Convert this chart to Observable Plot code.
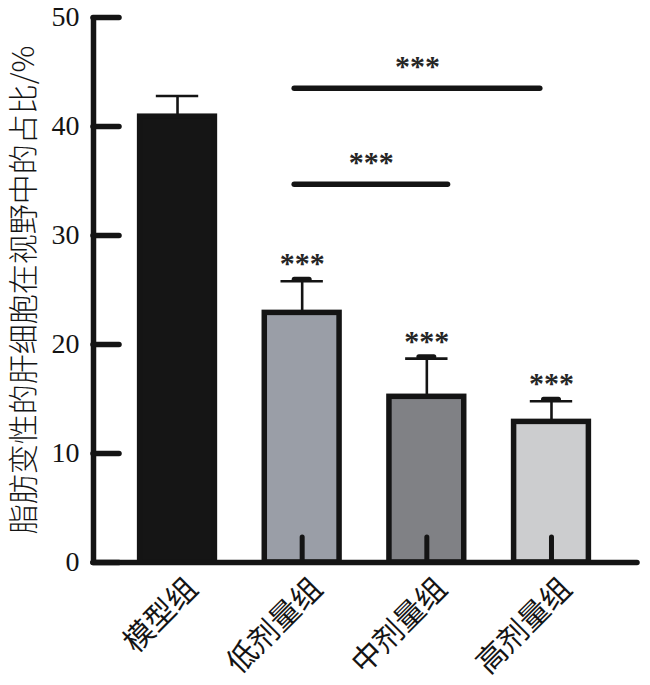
<!DOCTYPE html>
<html><head><meta charset="utf-8">
<script src="https://cdn.jsdelivr.net/npm/d3@7"></script>
<script src="https://cdn.jsdelivr.net/npm/@observablehq/plot@0.6"></script>
<style>body{margin:0;background:#fff}</style>
</head><body><div id="chart"></div>
<script>
// ---- data ----
const groups = ["模型组", "低剂量组", "中剂量组", "高剂量组"];
const means = [40.9, 22.9, 15.2, 12.9];
const errUpper = [42.8, 25.8, 18.7, 14.8];
const fills = ["#151515", "#9a9ea7", "#808185", "#cccdcf"];
const barStars = ["", "***", "***", "***"];
const stubTop = [0, 2.3, 2.3, 2.3];
const yTicks = [0, 10, 20, 30, 40, 50];
const yLabel = "脂肪变性的肝细胞在视野中的占比/%";
const sigFrom = [0.94, 0.94];
const sigTo = [2.17, 2.91];
const sigY = [34.7, 43.5];
const sigText = ["***", "***"];

const bars = groups.map((g, i) => ({i, g, mean: means[i], err: errUpper[i], fill: fills[i], star: barStars[i], stub: stubTop[i]}));
const sigs = sigY.map((y, k) => ({x1: sigFrom[k], x2: sigTo[k], y, text: sigText[k]}));
const serif = "'Liberation Serif', 'Times New Roman', serif";
const cjk = "'Noto Sans CJK SC', sans-serif";
const ink = "#141414";

const chart = Plot.plot({
  width: 650, height: 685,
  marginLeft: 93, marginRight: 13, marginTop: 17, marginBottom: 123,
  x: {domain: [-0.674, 3.69], axis: null},
  y: {domain: [0, 50]},
  style: {background: "white"},
  marks: [
    // error stems & caps
    Plot.ruleX(bars, {x: "i", y1: "mean", y2: "err", stroke: ink, strokeWidth: 2.6}),
    Plot.ruleY(bars, {y: "err", x1: d => d.i - 0.17, x2: d => d.i + 0.17, stroke: ink, strokeWidth: 2.6}),
    Plot.ruleY(bars.filter(d => d.star), {y: "err", x1: d => d.i - 0.06, x2: d => d.i + 0.06, stroke: ink, strokeWidth: 5, strokeLinecap: "round", dy: -2}),
    // bars
    Plot.rectY(bars, {x1: d => d.i - 0.3, x2: d => d.i + 0.3, y1: 0, y2: "mean", fill: "fill", stroke: ink, strokeWidth: 5.5}),
    // bottom stubs
    Plot.ruleX(bars.filter(d => d.stub > 0), {x: "i", y1: 0, y2: "stub", stroke: ink, strokeWidth: 5, strokeLinecap: "round"}),
    // axes lines
    Plot.ruleX([-0.674], {y1: 0, y2: 50, stroke: ink, strokeWidth: 5.5}),
    Plot.ruleY([0], {x1: -0.674, x2: 3.69, stroke: ink, strokeWidth: 5.5, strokeLinecap: "round"}),
    Plot.axisY(yTicks, {anchor: "left", tickSize: -26, tickPadding: 40, strokeWidth: 5.5, strokeLinecap: "round", stroke: ink, fill: ink, fontSize: 28, fontFamily: serif, label: null}),
    // bar stars
    Plot.text(bars.filter(d => d.star), {x: "i", y: "err", text: "star", dy: -8, lineAnchor: "bottom", fontSize: 30, fontWeight: "bold", fontFamily: serif, fill: "#262626"}),
    // significance brackets
    Plot.ruleY(sigs, {y: "y", x1: "x1", x2: "x2", stroke: ink, strokeWidth: 5.5, strokeLinecap: "round"}),
    Plot.text(sigs, {x: d => (d.x1 + d.x2) / 2, y: "y", text: "text", dy: -12, lineAnchor: "bottom", fontSize: 30, fontWeight: "bold", fontFamily: serif, fill: "#262626"}),
    // x tick labels
    Plot.text(bars, {x: "i", y: 0, text: "g", rotate: -45, textAnchor: "end", lineAnchor: "bottom", dx: 22, dy: 28, fontSize: 30, fontFamily: cjk, fill: ink}),
    // y label
    Plot.text([yLabel], {frameAnchor: "left", rotate: -90, dx: -69, text: d => d, textAnchor: "middle", lineAnchor: "middle", fontSize: 30, fontWeight: 300, fontFamily: cjk, fill: ink})
  ]
});
document.getElementById("chart").append(chart);
</script>
</body></html>
